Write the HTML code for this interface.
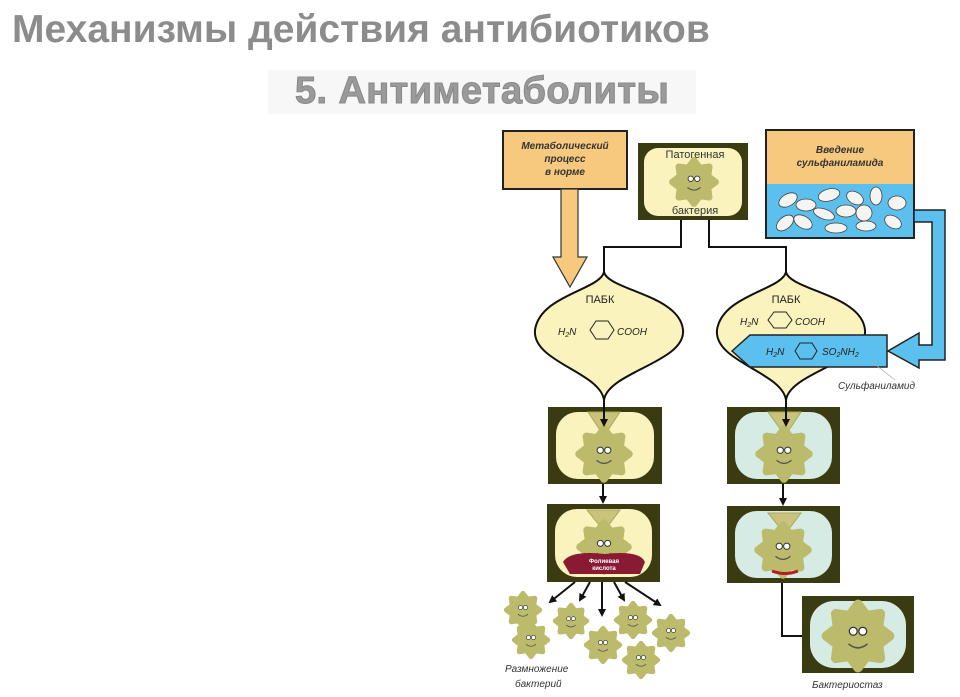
<!DOCTYPE html>
<html><head><meta charset="utf-8"><style>
html,body{margin:0;padding:0;background:#fff;}
body{width:960px;height:697px;position:relative;overflow:hidden;font-family:"Liberation Sans","DejaVu Sans",sans-serif;}
.t1{position:absolute;left:12px;top:8px;font-size:39px;font-weight:bold;color:#8c8c8c;letter-spacing:0px;white-space:nowrap;}
.t2bg{position:absolute;left:268px;top:70px;width:428px;height:44px;background:#f7f7f7;}
.t2{position:absolute;left:295px;top:70px;font-size:38px;font-weight:bold;color:#9a9a9a;white-space:nowrap;letter-spacing:0.4px;-webkit-text-stroke:1px #888;}
svg{position:absolute;left:0;top:0;}
</style></head><body>
<div class="t1">Механизмы действия антибиотиков</div>
<div class="t2bg"></div>
<div class="t2">5. Антиметаболиты</div>
<svg width="960" height="697" viewBox="0 0 960 697" font-family="Liberation Sans, DejaVu Sans, sans-serif">
<defs>
<symbol id="b" viewBox="-24 -24 48 48" overflow="visible">
<polygon points="20,0 12.9,5.4 14.1,14.1 5.4,12.9 0,20 -5.4,12.9 -14.1,14.1 -12.9,5.4 -20,0 -12.9,-5.4 -14.1,-14.1 -5.4,-12.9 0,-20 5.4,-12.9 14.1,-14.1 12.9,-5.4" fill="#bcbb6c" stroke="#bcbb6c" stroke-width="6" stroke-linejoin="round"/>
<circle cx="-3" cy="-3" r="2.5" fill="#fff" stroke="#333" stroke-width="0.8"/><circle cx="3" cy="-3" r="2.5" fill="#fff" stroke="#333" stroke-width="0.8"/>
<path d="M-6,5 Q0,10 6,5" fill="none" stroke="#555" stroke-width="1"/>
</symbol>
<marker id="ah" markerWidth="8" markerHeight="8" refX="6" refY="4" orient="auto" markerUnits="userSpaceOnUse"><path d="M0,0 L8,4 L0,8 Z" fill="#111"/></marker>
</defs>

<rect x="503" y="131" width="124" height="58" fill="#f7c97e" stroke="#222" stroke-width="2"/>
<g font-size="10" font-style="italic" font-weight="bold" fill="#333" text-anchor="middle">
<text x="565" y="149">Метаболический</text><text x="565" y="162">процесс</text><text x="565" y="175">в  норме</text></g>
<path d="M561,189 L578,189 L578,257 L587,257 L570,287 L553,257 L561,257 Z" fill="#f7c97e" stroke="#333" stroke-width="1.2"/>

<rect x="638" y="143" width="110" height="77" fill="#3b3b12"/>
<rect x="644" y="148" width="98" height="68" rx="14" fill="#fbf3bd"/>
<use href="#b" x="668" y="156" width="52" height="52"/>
<text x="695" y="158" font-size="11" text-anchor="middle" fill="#333">Патогенная</text>
<text x="695" y="214" font-size="11" text-anchor="middle" fill="#333">бактерия</text>

<path d="M681,220 V247 H604 V272 M709,220 V247 H786 V272" fill="none" stroke="#111" stroke-width="2"/>

<rect x="766" y="130" width="148" height="108" fill="#5cc0ee" stroke="#222" stroke-width="2"/>
<rect x="767" y="131" width="146" height="53" fill="#f7c97e"/>
<g font-size="10" font-style="italic" font-weight="bold" fill="#333" text-anchor="middle">
<text x="840" y="153">Введение</text><text x="840" y="166">сульфаниламида</text></g>
<g fill="#f4f4f0" stroke="#444" stroke-width="0.8">
<ellipse cx="788" cy="200" rx="10" ry="6" transform="rotate(-30 788 200)"/>
<ellipse cx="806" cy="205" rx="10" ry="6"/>
<ellipse cx="829" cy="195" rx="11" ry="6" transform="rotate(-15 829 195)"/>
<ellipse cx="855" cy="198" rx="9" ry="6" transform="rotate(30 855 198)"/>
<ellipse cx="876" cy="196" rx="6" ry="9"/>
<ellipse cx="897" cy="203" rx="9" ry="7"/>
<ellipse cx="785" cy="223" rx="10" ry="6" transform="rotate(-40 785 223)"/>
<ellipse cx="803" cy="222" rx="10" ry="6" transform="rotate(30 803 222)"/>
<ellipse cx="824" cy="214" rx="11" ry="5" transform="rotate(20 824 214)"/>
<ellipse cx="846" cy="211" rx="10" ry="6"/>
<ellipse cx="864" cy="213" rx="8" ry="8"/>
<ellipse cx="836" cy="228" rx="11" ry="5"/>
<ellipse cx="866" cy="226" rx="10" ry="5"/>
<ellipse cx="893" cy="222" rx="9" ry="6" transform="rotate(30 893 222)"/>
</g>

<path d="M914,210 L945,210 L945,360 L919,360 L919,368 L888,351 L919,333 L919,345 L932,345 L932,222 L914,222 Z" fill="#5cc0ee" stroke="#222" stroke-width="1.5"/>

<path d="M604,272 C600,290 540,295 535,330 C532,362 600,372 604,400 C608,372 686,362 683,330 C680,295 608,290 604,272 Z" fill="#fbf3bd" stroke="#111" stroke-width="2"/>
<path d="M786,272 C782,290 722,295 717,330 C714,362 782,372 786,400 C790,372 868,362 865,330 C862,295 790,290 786,272 Z" fill="#fbf3bd" stroke="#111" stroke-width="2"/>
<g font-size="11" fill="#222" text-anchor="middle"><text x="600" y="303">ПАБК</text><text x="786" y="303">ПАБК</text></g>
<g font-size="10" font-style="italic" fill="#222">
<text x="558" y="335">H<tspan font-size="7" dy="2">2</tspan><tspan dy="-2">N</tspan></text>
<polygon points="590,330 596,321 608,321 614,330 608,339 596,339" fill="none" stroke="#222" stroke-width="1"/>
<text x="617" y="335">COOH</text>
<text x="740" y="325">H<tspan font-size="7" dy="2">2</tspan><tspan dy="-2">N</tspan></text>
<polygon points="768,320 774,312 786,312 792,320 786,328 774,328" fill="none" stroke="#222" stroke-width="1"/>
<text x="795" y="325">COOH</text>
</g>
<path d="M732,351 L750,335 L887,335 L887,367 L750,367 Z" fill="#5cc0ee" stroke="#222" stroke-width="1.5"/>
<g font-size="10" font-style="italic" fill="#222">
<text x="766" y="355">H<tspan font-size="7" dy="2">2</tspan><tspan dy="-2">N</tspan></text>
<polygon points="795,351 800,343 812,343 817,351 812,359 800,359" fill="none" stroke="#222" stroke-width="1"/>
<text x="822" y="355">SO<tspan font-size="7" dy="2">2</tspan><tspan dy="-2">NH</tspan><tspan font-size="7" dy="2">2</tspan></text>
</g>
<line x1="872" y1="362" x2="895" y2="380" stroke="#aaa" stroke-width="0.7"/>
<text x="838" y="389" font-size="10" font-style="italic" fill="#333">Сульфаниламид</text>

<g>
<rect x="548" y="407" width="114" height="77" fill="#3b3b12"/><rect x="556" y="412" width="98" height="67" rx="22" fill="#fbf3bd"/>
<rect x="547" y="504" width="113" height="78" fill="#3b3b12"/><rect x="555" y="509" width="97" height="68" rx="22" fill="#fbf3bd"/>
<rect x="727" y="407" width="113" height="77" fill="#3b3b12"/><rect x="735" y="412" width="97" height="67" rx="22" fill="#d6ebe3"/>
<rect x="727" y="506" width="113" height="77" fill="#3b3b12"/><rect x="735" y="511" width="97" height="67" rx="22" fill="#d6ebe3"/>
<rect x="802" y="596" width="112" height="77" fill="#3b3b12"/><rect x="810" y="601" width="96" height="67" rx="24" fill="#d6ebe3"/>
</g>
<path d="M782,583 V636 H802" fill="none" stroke="#111" stroke-width="2"/>
<g fill="#c9c37c" stroke="#a9a858" stroke-width="1">
<path d="M588,412 L620,412 L608,430 L600,430 Z"/>
<path d="M587,510 L620,510 L608,526 L600,526 Z"/>
<path d="M768,412 L801,412 L789,430 L781,430 Z"/>
<path d="M768,513 L801,513 L789,529 L781,529 Z"/>
</g>
<use href="#b" x="572" y="424" width="64" height="60"/>
<use href="#b" x="574" y="518" width="60" height="58"/>
<use href="#b" x="752" y="424" width="64" height="60"/>
<use href="#b" x="752" y="520" width="62" height="60"/>
<use href="#b" x="820" y="598" width="76" height="76"/>
<path d="M563,562 Q570,550 605,554 Q640,550 645,562 L640,574 L570,574 Z" fill="#8a1a33"/>
<text x="604" y="563" font-size="6" fill="#fff" text-anchor="middle" font-weight="bold">Фолиевая</text>
<text x="604" y="570" font-size="6" fill="#fff" text-anchor="middle" font-weight="bold">кислота</text>
<path d="M772,571 Q785,576 798,571" fill="none" stroke="#b02020" stroke-width="3"/>

<g stroke="#111" stroke-width="2" marker-end="url(#ah)">
<line x1="604" y1="400" x2="604" y2="425"/>
<line x1="786" y1="400" x2="786" y2="425"/>
<line x1="603" y1="484" x2="603" y2="502"/>
<line x1="783" y1="484" x2="783" y2="504"/>
<line x1="575" y1="582" x2="550" y2="602"/>
<line x1="590" y1="582" x2="580" y2="600"/>
<line x1="602" y1="582" x2="602" y2="615"/>
<line x1="614" y1="582" x2="624" y2="600"/>
<line x1="625" y1="582" x2="660" y2="605"/>
</g>

<use href="#b" x="500" y="590" width="46" height="40"/>
<use href="#b" x="508" y="620" width="46" height="40"/>
<use href="#b" x="548" y="602" width="46" height="38"/>
<use href="#b" x="580" y="625" width="46" height="40"/>
<use href="#b" x="610" y="600" width="46" height="40"/>
<use href="#b" x="648" y="613" width="46" height="40"/>
<use href="#b" x="618" y="640" width="46" height="40"/>

<g font-size="10" font-style="italic" fill="#333">
<text x="505" y="672">Размножение</text><text x="515" y="687">бактерий</text>
<text x="812" y="688">Бактериостаз</text></g>
</svg>
</body></html>
